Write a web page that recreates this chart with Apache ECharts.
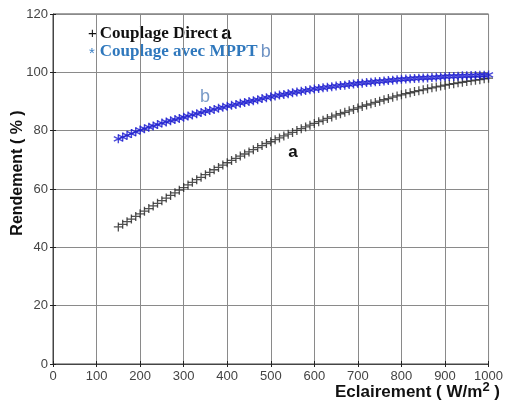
<!DOCTYPE html>
<html>
<head>
<meta charset="utf-8">
<script src="https://cdn.jsdelivr.net/npm/echarts@6/dist/echarts.min.js"></script>
<style>
  html, body { margin: 0; padding: 0; background: #fff; }
  #chart { width: 506px; height: 404px; }
</style>
</head>
<body>
<div id="chart"></div>
<script>
// eclairement (W/m2)
const irradiance = [
  150, 160, 170, 180, 190, 200,
  210, 220, 230, 240, 250, 260, 270, 280, 290, 300,
  310, 320, 330, 340, 350, 360, 370, 380, 390, 400,
  410, 420, 430, 440, 450, 460, 470, 480, 490, 500,
  510, 520, 530, 540, 550, 560, 570, 580, 590, 600,
  610, 620, 630, 640, 650, 660, 670, 680, 690, 700,
  710, 720, 730, 740, 750, 760, 770, 780, 790, 800,
  810, 820, 830, 840, 850, 860, 870, 880, 890, 900,
  910, 920, 930, 940, 950, 960, 970, 980, 990, 1000
];

// a : couplage direct
const rendDirect = [
  47.0, 47.9, 48.8, 49.7, 50.6, 51.5,
  52.4, 53.3, 54.2, 55.1, 56.0, 56.9, 57.8, 58.7, 59.6, 60.5,
  61.4, 62.3, 63.2, 64.0, 64.9, 65.7, 66.6, 67.4, 68.2, 69.0,
  69.8, 70.5, 71.3, 72.0, 72.7, 73.5, 74.2, 74.9, 75.6, 76.2,
  76.9, 77.5, 78.2, 78.8, 79.4, 80.1, 80.7, 81.3, 81.9, 82.5,
  83.1, 83.6, 84.2, 84.7, 85.3, 85.8, 86.3, 86.8, 87.3, 87.8,
  88.3, 88.8, 89.2, 89.7, 90.1, 90.6, 91.0, 91.5, 91.9, 92.3,
  92.7, 93.0, 93.4, 93.7, 94.0, 94.4, 94.7, 95.0, 95.3, 95.6,
  95.9, 96.1, 96.4, 96.6, 96.9, 97.1, 97.3, 97.5, 97.8, 98.0
];

// b : couplage avec MPPT
const rendMppt = [
  77.2, 77.8, 78.4, 79.0, 79.6, 80.2,
  80.7, 81.2, 81.6, 82.1, 82.6, 83.0, 83.4, 83.8, 84.2, 84.6,
  85.0, 85.4, 85.8, 86.2, 86.6, 86.9, 87.3, 87.7, 88.0, 88.4,
  88.7, 89.0, 89.4, 89.7, 90.0, 90.3, 90.6, 91.0, 91.3, 91.6,
  91.9, 92.2, 92.4, 92.7, 93.0, 93.3, 93.5, 93.8, 94.0, 94.3,
  94.5, 94.7, 94.9, 95.1, 95.3, 95.5, 95.6, 95.8, 96.0, 96.2,
  96.3, 96.5, 96.6, 96.8, 96.9, 97.0, 97.2, 97.3, 97.5, 97.6,
  97.7, 97.8, 97.9, 98.0, 98.1, 98.1, 98.2, 98.3, 98.4, 98.5,
  98.6, 98.6, 98.7, 98.8, 98.8, 98.9, 98.9, 99.0, 99.0, 99.1
];

const xTicks = [0, 100, 200, 300, 400, 500, 600, 700, 800, 900, 1000];
const yTicks = [0, 20, 40, 60, 80, 100, 120];

const plusPath = 'path://M0,5H10M5,0V10';
const starPath = 'path://M5,0V10M0.7,2.5L9.3,7.5M0.7,7.5L9.3,2.5';

let chart = echarts.init(document.getElementById('chart'));

const tickFont = { color: '#444', fontSize: 13, fontFamily: 'Liberation Sans, Arial, sans-serif' };

let option = {
    animation: false,
    grid: { left: 53, right: 11, top: 14, bottom: 40, show: true, borderColor: '#444', borderWidth: 1 },
    xAxis: [{
        type: 'value',
        min: xTicks[0],
        max: xTicks[xTicks.length - 1],
        interval: 100,
        axisLine: { show: true, lineStyle: { color: '#444' } },
        axisTick: { show: true, inside: true, length: 3, lineStyle: { color: '#222' } },
        axisLabel: Object.assign({ margin: 6, formatter: (v) => String(v) }, tickFont),
        splitLine: { show: true, lineStyle: { color: '#8a8a8a', width: 1 } }
    }, {
        type: 'value', position: 'top',
        min: 0, max: 1000, interval: 100,
        axisLine: { show: false },
        axisTick: { show: true, inside: true, length: 3, lineStyle: { color: '#222' } },
        axisLabel: { show: false },
        splitLine: { show: false }
    }],
    yAxis: [{
        type: 'value',
        min: yTicks[0],
        max: yTicks[yTicks.length - 1],
        interval: 20,
        axisLine: { show: true, lineStyle: { color: '#444' } },
        axisTick: { show: true, inside: true, length: 3, lineStyle: { color: '#222' } },
        axisLabel: Object.assign({ margin: 5 }, tickFont),
        splitLine: { show: true, lineStyle: { color: '#8a8a8a', width: 1 } }
    }, {
        type: 'value', position: 'right',
        min: 0, max: 120, interval: 20,
        axisLine: { show: false },
        axisTick: { show: true, inside: true, length: 3, lineStyle: { color: '#222' } },
        axisLabel: { show: false },
        splitLine: { show: false }
    }],
    series: [{
        name: 'Couplage Direct',
        type: 'scatter',
        symbol: plusPath,
        symbolSize: 9,
        itemStyle: { color: 'transparent', borderColor: '#262626', borderWidth: 1.3 },
        data: irradiance.map((x, i) => [x, rendDirect[i]])
    }, {
        name: 'Couplage avec MPPT',
        type: 'scatter',
        symbol: starPath,
        symbolSize: 9,
        itemStyle: { color: 'transparent', borderColor: '#1c1cd0', borderWidth: 1.4 },
        data: irradiance.map((x, i) => [x, rendMppt[i]])
    }],
    graphic: [{
        type: 'text', left: 88, top: 25,
        style: {
            text: '{p|+}{t|Couplage Direct} {l|a}',
            rich: {
                p: { fontSize: 15, fontFamily: 'Liberation Sans, Arial', fill: '#111', padding: [0, 3, 0, 0] },
                t: { fontSize: 17, fontWeight: 'bold', fontFamily: 'Liberation Serif, Times New Roman, serif', fill: '#111' },
                l: { fontSize: 18, fontWeight: 'bold', fontFamily: 'Liberation Sans, Arial', fill: '#111' }
            }
        }
    }, {
        type: 'text', left: 89, top: 43,
        style: {
            text: '{p|*}{t|Couplage avec MPPT} {l|b}',
            rich: {
                p: { fontSize: 15, fontFamily: 'Liberation Sans, Arial', fill: '#3a7fc4', padding: [4, 5, 0, 0] },
                t: { fontSize: 17, fontWeight: 'bold', fontFamily: 'Liberation Serif, Times New Roman, serif', fill: '#2f78bd' },
                l: { fontSize: 18, fontFamily: 'Liberation Sans, Arial', fill: '#6f93c4' }
            }
        }
    }, {
        type: 'text', x: 205, y: 97,
        style: { text: 'b', fontSize: 18, fontFamily: 'Liberation Sans, Arial', fill: '#7a9bc8', align: 'center', verticalAlign: 'middle' }
    }, {
        type: 'text', x: 293, y: 152,
        style: { text: 'a', fontSize: 17, fontWeight: 'bold', fontFamily: 'Liberation Sans, Arial', fill: '#111', align: 'center', verticalAlign: 'middle' }
    }, {
        type: 'text', x: 18, y: 173, rotation: Math.PI / 2,
        style: { text: 'Rendement ( % )', fontSize: 16, fontWeight: 'bold', fontFamily: 'Liberation Sans, Arial', fill: '#111', align: 'center', verticalAlign: 'middle' }
    }, {
        type: 'text', right: 6, top: 381,
        style: {
            text: '{m|Eclairement ( W/m}{s|2}{m| )}',
            rich: {
                m: { fontSize: 17, fontWeight: 'bold', fontFamily: 'Liberation Sans, Arial', fill: '#111', verticalAlign: 'bottom', lineHeight: 20 },
                s: { fontSize: 13, fontWeight: 'bold', fontFamily: 'Liberation Sans, Arial', fill: '#111', verticalAlign: 'top', padding: [0, 0, 6, 0], lineHeight: 20 }
            }
        }
    }]
};

chart.setOption(option);
</script>
</body>
</html>
